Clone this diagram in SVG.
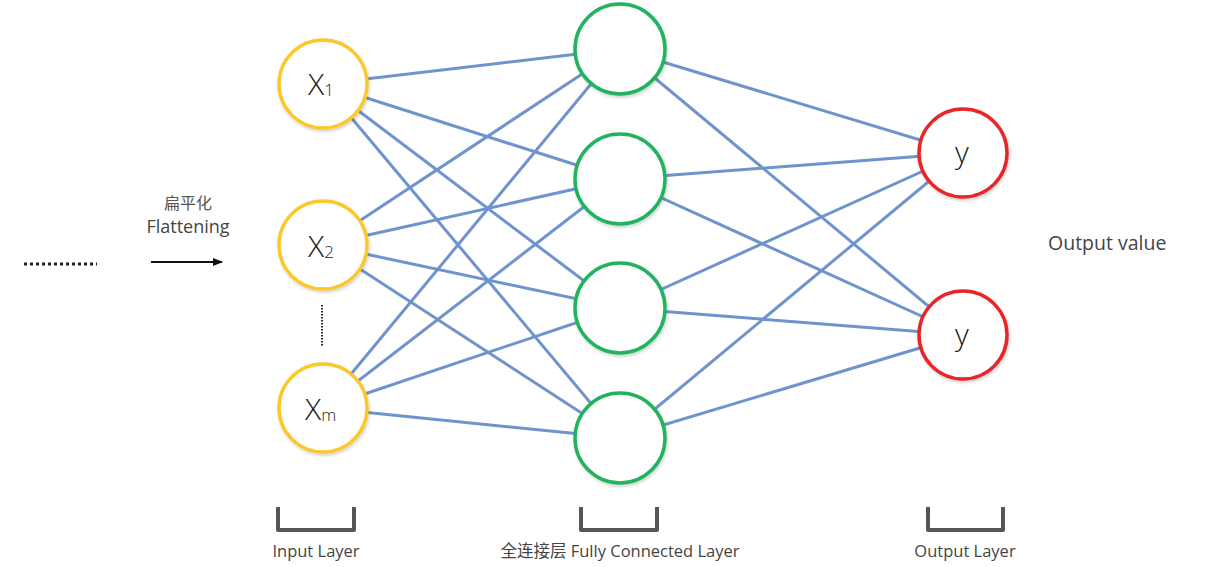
<svg xmlns="http://www.w3.org/2000/svg" width="1206" height="567" viewBox="0 0 1206 567">
<defs>
<marker id="arr" markerWidth="10" markerHeight="8" refX="9" refY="4" orient="auto" markerUnits="userSpaceOnUse">
<path d="M0,0 L10,4 L0,8 Z" fill="#111"/>
</marker>
<filter id="sh" x="-20%" y="-20%" width="140%" height="140%">
<feDropShadow dx="1" dy="2" stdDeviation="1.5" flood-color="#000" flood-opacity="0.18"/>
</filter>
</defs>
<style>
.edge{stroke:#6f93cc;stroke-width:3;fill:none}
.in{fill:#fff;stroke:#fbc82a;stroke-width:3.5}
.hid{fill:#fff;stroke:#22b35e;stroke-width:3.5}
.out{fill:#fff;stroke:#e8262b;stroke-width:3.5}
.lbl{font-family:"Open Sans","Liberation Sans",sans-serif;font-weight:300;fill:#222}
.cap{font-family:"Open Sans","Noto Sans CJK SC",sans-serif;font-size:16.5px;fill:#444;text-anchor:middle}
.br{stroke:#555;stroke-width:4;fill:none;stroke-linejoin:round}
</style>
<rect width="1206" height="567" fill="#fff"/>
<g id="connectors">
<line class="edge" x1="323" y1="84" x2="620" y2="49"/>
<line class="edge" x1="323" y1="84" x2="620" y2="179"/>
<line class="edge" x1="323" y1="84" x2="620" y2="308"/>
<line class="edge" x1="323" y1="84" x2="620" y2="438"/>
<line class="edge" x1="323" y1="245" x2="620" y2="49"/>
<line class="edge" x1="323" y1="245" x2="620" y2="179"/>
<line class="edge" x1="323" y1="245" x2="620" y2="308"/>
<line class="edge" x1="323" y1="245" x2="620" y2="438"/>
<line class="edge" x1="323" y1="408" x2="620" y2="49"/>
<line class="edge" x1="323" y1="408" x2="620" y2="179"/>
<line class="edge" x1="323" y1="408" x2="620" y2="308"/>
<line class="edge" x1="323" y1="408" x2="620" y2="438"/>
<line class="edge" x1="620" y1="49" x2="963" y2="153"/>
<line class="edge" x1="620" y1="49" x2="963" y2="335"/>
<line class="edge" x1="620" y1="179" x2="963" y2="153"/>
<line class="edge" x1="620" y1="179" x2="963" y2="335"/>
<line class="edge" x1="620" y1="308" x2="963" y2="153"/>
<line class="edge" x1="620" y1="308" x2="963" y2="335"/>
<line class="edge" x1="620" y1="438" x2="963" y2="153"/>
<line class="edge" x1="620" y1="438" x2="963" y2="335"/>
</g>
<g id="x1"><circle class="in" cx="323" cy="84" r="44" filter="url(#sh)"/><text class="lbl" x="308" y="95" font-size="30">X<tspan font-size="17" dy="1">1</tspan></text></g>
<g id="x2"><circle class="in" cx="323" cy="245" r="44" filter="url(#sh)"/><text class="lbl" x="308" y="257" font-size="30">X<tspan font-size="17" dy="1">2</tspan></text></g>
<g id="xm"><circle class="in" cx="323" cy="408" r="44" filter="url(#sh)"/><text class="lbl" x="305" y="420" font-size="30">X<tspan font-size="17" dy="1">m</tspan></text></g>
<g id="h1"><circle class="hid" cx="620" cy="49" r="45" filter="url(#sh)"/></g>
<g id="h2"><circle class="hid" cx="620" cy="179" r="45" filter="url(#sh)"/></g>
<g id="h3"><circle class="hid" cx="620" cy="308" r="45" filter="url(#sh)"/></g>
<g id="h4"><circle class="hid" cx="620" cy="438" r="45" filter="url(#sh)"/></g>
<g id="y1"><circle class="out" cx="963" cy="153" r="44" filter="url(#sh)"/><text class="lbl" x="962" y="163" font-size="30" text-anchor="middle">y</text></g>
<g id="y2"><circle class="out" cx="963" cy="335" r="44" filter="url(#sh)"/><text class="lbl" x="962" y="345" font-size="30" text-anchor="middle">y</text></g>
<g id="vdots"><line x1="322" y1="305" x2="322" y2="346" stroke="#222" stroke-width="2" stroke-dasharray="1.5,1.5"/></g>
<g id="hdots"><line x1="24" y1="264" x2="97" y2="264" stroke="#222" stroke-width="3" stroke-dasharray="3,3"/></g>
<g id="flatten">
<text x="188" y="209" font-family="Noto Sans CJK SC,sans-serif" font-size="16" fill="#555" text-anchor="middle">扁平化</text>
<text x="188" y="233" font-family="Open Sans,Liberation Sans,sans-serif" font-size="18" fill="#444" text-anchor="middle">Flattening</text>
<line x1="151" y1="262" x2="222" y2="262" stroke="#111" stroke-width="2" marker-end="url(#arr)"/>
</g>
<g id="outval"><text x="1048" y="250" font-family="Open Sans,Liberation Sans,sans-serif" font-size="19.5" fill="#444">Output value</text></g>
<g id="inlayer"><path class="br" d="M278,507 V530 H354 V507"/><text class="cap" x="316" y="557">Input Layer</text></g>
<g id="fclayer"><path class="br" d="M581,507 V530 H657 V507"/><text class="cap" x="620" y="557">全连接层 Fully Connected Layer</text></g>
<g id="outlayer"><path class="br" d="M928,507 V530 H1003 V507"/><text class="cap" x="965" y="557">Output Layer</text></g>
</svg>
